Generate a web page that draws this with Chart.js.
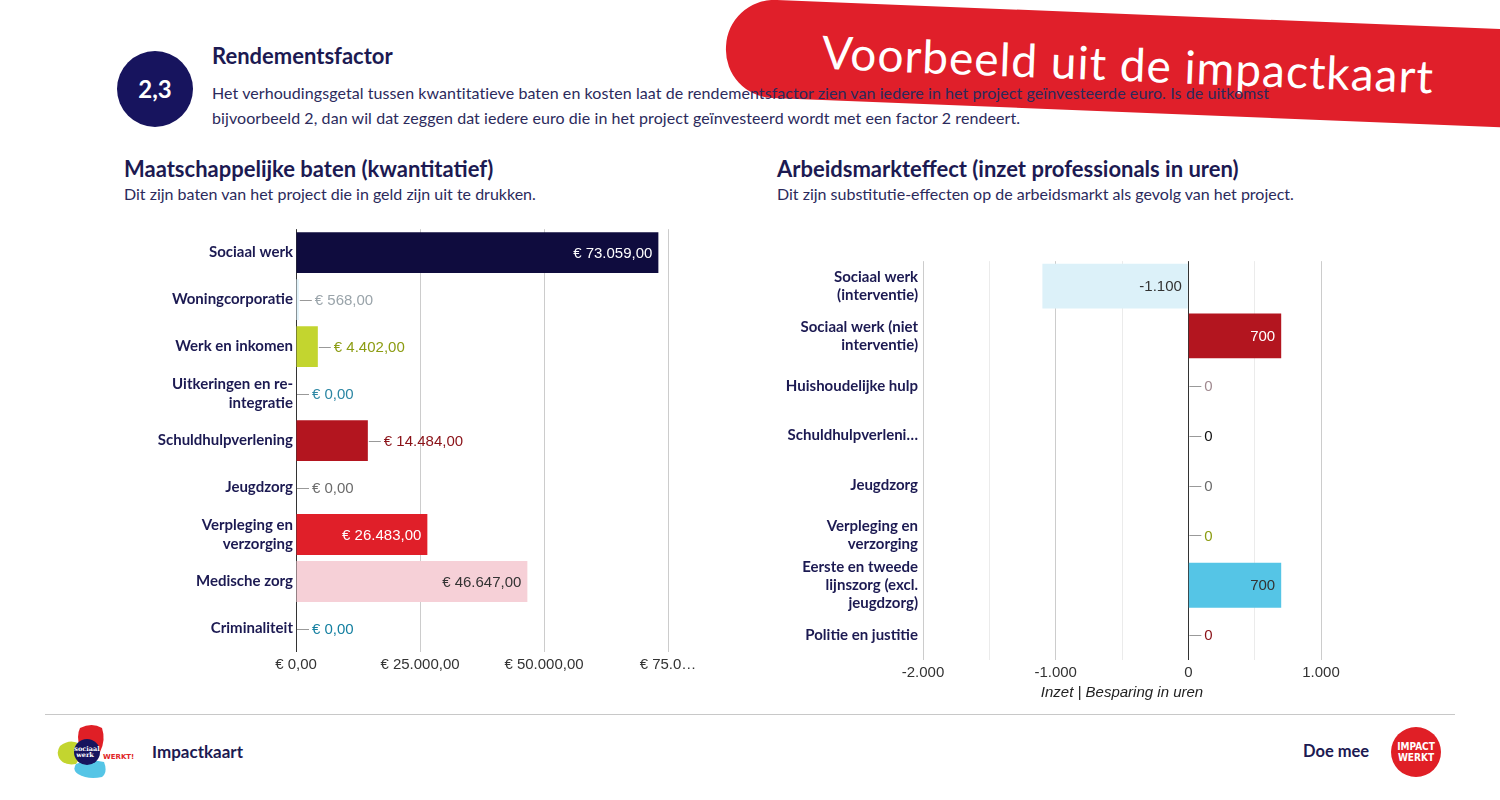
<!DOCTYPE html>
<html lang="nl">
<head>
<meta charset="utf-8">
<title>Impactkaart</title>
<script src="https://cdn.jsdelivr.net/npm/chart.js"></script>
<style>
  body { margin: 0; background: #fff; }
  #page { position: relative; width: 1500px; height: 800px; overflow: hidden; font-family: Lato, "Noto Sans", sans-serif; color: #1c1a52; }
  .abs { position: absolute; white-space: nowrap; }
  #banner { position: absolute; left: 726px; top: -2px; width: 860px; height: 98px; background: #e01f2a;
            border-radius: 48px 0 0 48px; transform-origin: 0 50%; transform: rotate(2.3deg); }
  #banner span { position: absolute; left: 96px; top: 27px; font-size: 46px; letter-spacing: 1px; line-height: 1; color: #fff; }
  #circle { left: 117px; top: 51px; width: 76px; height: 76px; border-radius: 50%; background: #17145e;
            color: #fff; font-weight: 700; font-size: 24px; line-height: 76px; text-align: center; }
  .title { font-weight: 700; font-size: 22px; }
  .txt { font-size: 16px; color: #2b2a5c; }
  #footline { left: 45px; top: 714px; width: 1410px; height: 1px; background: #c8c8c8; }
  #impact { left: 1391px; top: 727px; width: 50px; height: 50px; border-radius: 50%; background: #e01f26; color: #fff;
            font: 700 10px/11px "DejaVu Sans Condensed", sans-serif; text-align: center; padding-top: 14px; box-sizing: border-box; }
</style>
</head>
<body>
<div id="page">
  <div id="banner"><span>Voorbeeld uit de impactkaart</span></div>

  <div id="circle" class="abs">2,3</div>
  <div class="abs title" style="left:212px;top:42px;">Rendementsfactor</div>
  <div class="abs txt" style="left:212px;top:80px;line-height:25px;letter-spacing:0.08px;">Het verhoudingsgetal tussen kwantitatieve baten en kosten laat de rendementsfactor zien van iedere in het project geïnvesteerde euro. Is de uitkomst<br>bijvoorbeeld 2, dan wil dat zeggen dat iedere euro die in het project geïnvesteerd wordt met een factor 2 rendeert.</div>

  <div class="abs title" style="left:124px;top:155px;">Maatschappelijke baten (kwantitatief)</div>
  <div class="abs txt" style="left:124px;top:184px;">Dit zijn baten van het project die in geld zijn uit te drukken.</div>
  <div class="abs title" style="left:777px;top:155px;">Arbeidsmarkteffect (inzet professionals in uren)</div>
  <div class="abs txt" style="left:777px;top:184px;">Dit zijn substitutie-effecten op de arbeidsmarkt als gevolg van het project.</div>

  <canvas id="baten" class="abs" width="600" height="473" style="left:110px;top:217px;"></canvas>
  <canvas id="uren" class="abs" width="600" height="463" style="left:770px;top:247px;"></canvas>

  <div id="footline" class="abs"></div>
  <svg class="abs" style="left:50px;top:720px;" width="100" height="65" viewBox="0 0 100 65">
    <path d="M30 8 Q42 2 52 8 Q56 20 50 32 Q38 36 30 28 Q26 16 30 8 Z" fill="#e01f26"/>
    <path d="M10 26 Q20 18 30 24 Q32 36 26 44 Q14 46 9 38 Q6 32 10 26 Z" fill="#c3d52f"/>
    <path d="M26 44 Q40 38 54 42 Q58 52 52 57 Q38 60 28 54 Q22 50 26 44 Z" fill="#55c5e6"/>
    <circle cx="37" cy="32" r="13" fill="#17145e"/>
    <text x="37" y="31" font-family="DejaVu Serif" font-size="6.5" font-weight="700" fill="#fff" text-anchor="middle">sociaal</text>
    <text x="35" y="37" font-family="DejaVu Serif" font-size="6.5" font-weight="700" fill="#fff" text-anchor="middle">werk</text>
    <text x="53" y="39" font-family="DejaVu Sans" font-size="7" font-weight="700" fill="#e01f26">WERKT!</text>
  </svg>
  <div class="abs title" style="left:152px;top:741px;font-size:17px;">Impactkaart</div>
  <div class="abs title" style="left:1303px;top:741px;font-size:16.5px;">Doe mee</div>
  <div id="impact" class="abs">IMPACT<br>WERKT</div>
</div>

<script>
// Maatschappelijke baten (euro)
const batenLabels = ['Sociaal werk', 'Woningcorporatie', 'Werk en inkomen', ['Uitkeringen en re-', 'integratie'],
  'Schuldhulpverlening', 'Jeugdzorg', ['Verpleging en', 'verzorging'], 'Medische zorg', 'Criminaliteit'];
const batenValues = [73059, 568, 4402, 0, 14484, 0, 26483, 46647, 0];
const batenColors = ['#0f0c3e', '#dff2f9', '#c3d52f', '#2b86a3', '#b3151f', '#777777', '#e01f29', '#f6d0d7', '#137fa0'];
const batenTextColors = ['#ffffff', '#9aa4aa', '#8c9c12', '#2b86a3', '#8a1117', '#6b6b6b', '#ffffff', '#333333', '#137fa0'];
const batenTicks = ['€ 0,00', '€ 25.000,00', '€ 50.000,00', '€ 75.0…'];

// Arbeidsmarkteffect (uren)
const urenLabels = [['Sociaal werk', '(interventie)'], ['Sociaal werk (niet', 'interventie)'], 'Huishoudelijke hulp',
  'Schuldhulpverleni…', 'Jeugdzorg', ['Verpleging en', 'verzorging'], ['Eerste en tweede', 'lijnszorg (excl.', 'jeugdzorg)'],
  'Politie en justitie'];
const urenValues = [-1100, 700, 0, 0, 0, 0, 700, 0];
const urenColors = ['#dcf1f9', '#b3151f', '#f5cfd6', '#0f0c3e', '#777777', '#c3d52f', '#55c5e6', '#8a1117'];
const urenTextColors = ['#333333', '#ffffff', '#a08a90', '#111111', '#6b6b6b', '#8c9c12', '#333333', '#8a1117'];
const urenTicks = ['-2.000', '', '-1.000', '', '0', '', '1.000'];

function punten(n) {
  const s = String(Math.abs(n)).replace(/\B(?=(\d{3})+(?!\d))/g, '.');
  return (n < 0 ? '-' : '') + s;
}

const valueLabels = {
  id: 'valueLabels',
  afterDatasetsDraw(chart, args, opts) {
    const ctx = chart.ctx;
    const ds = chart.data.datasets[0];
    ctx.save();
    ctx.font = '15px "Liberation Sans", Arial, sans-serif';
    ctx.textBaseline = 'middle';
    chart.getDatasetMeta(0).data.forEach((bar, i) => {
      const text = opts.format(ds.data[i]);
      const w = ctx.measureText(text).width;
      const left = Math.min(bar.x, bar.base);
      const right = Math.max(bar.x, bar.base);
      ctx.fillStyle = opts.colors[i];
      if (right - left > w + 12) {
        ctx.textAlign = 'right';
        ctx.fillText(text, right - 6, bar.y + 1);
      } else {
        ctx.strokeStyle = '#999';
        ctx.lineWidth = 1;
        ctx.beginPath();
        ctx.moveTo(right + 1, Math.round(bar.y) + 0.5);
        ctx.lineTo(right + 13, Math.round(bar.y) + 0.5);
        ctx.stroke();
        ctx.textAlign = 'left';
        ctx.fillText(text, right + 16, bar.y + 1);
      }
    });
    ctx.restore();
  }
};

const labelFont = { family: 'Lato, "Noto Sans", sans-serif', size: 15, weight: '700', lineHeight: 1.22 };
const tickFont = { family: '"Liberation Sans", Arial, sans-serif', size: 15 };

new Chart(document.getElementById('baten'), {
  type: 'bar',
  plugins: [valueLabels],
  data: {
    labels: batenLabels,
    datasets: [{ data: batenValues, backgroundColor: batenColors, borderWidth: 0, categoryPercentage: 1, barPercentage: 0.87 }]
  },
  options: {
    indexAxis: 'y',
    responsive: false,
    animation: false,
    devicePixelRatio: 1,
    layout: { padding: { top: 5, bottom: 8, right: 42, left: 0 } },
    plugins: {
      legend: { display: false },
      tooltip: { enabled: false },
      valueLabels: { colors: batenTextColors, format: v => '€ ' + punten(v) + ',00' }
    },
    scales: {
      x: {
        min: 0, max: 75000,
        afterFit: s => { s.height = 30; },
        border: { display: false },
        grid: { drawTicks: false, color: c => c.tick && c.tick.value === 0 ? '#333' : '#cccccc' },
        ticks: { stepSize: 25000, autoSkip: false, maxRotation: 0, padding: 4, color: '#333', font: tickFont,
                 callback: (v, i) => batenTicks[i] }
      },
      y: {
        afterFit: s => { s.width = 186; },
        border: { display: false },
        grid: { display: false, drawTicks: false },
        ticks: { autoSkip: false, padding: 3, color: '#1c1a52', font: labelFont }
      }
    }
  }
});

new Chart(document.getElementById('uren'), {
  type: 'bar',
  plugins: [valueLabels],
  data: {
    labels: urenLabels,
    datasets: [{ data: urenValues, backgroundColor: urenColors, borderWidth: 0, categoryPercentage: 1, barPercentage: 0.9 }]
  },
  options: {
    indexAxis: 'y',
    responsive: false,
    animation: false,
    devicePixelRatio: 1,
    layout: { padding: { top: 6, bottom: 6, right: 49, left: 0 } },
    plugins: {
      legend: { display: false },
      tooltip: { enabled: false },
      valueLabels: { colors: urenTextColors, format: v => punten(v) }
    },
    scales: {
      x: {
        min: -2000, max: 1000,
        afterFit: s => { s.height = 44; },
        border: { display: false },
        grid: {
          drawTicks: false,
          color: c => {
            if (!c.tick) return '#ccc';
            if (c.tick.value === 0) return '#333';
            return c.tick.value % 1000 === 0 ? '#cccccc' : '#ebebeb';
          }
        },
        ticks: { stepSize: 500, autoSkip: false, maxRotation: 0, padding: 4, color: '#333', font: tickFont,
                 callback: (v, i) => urenTicks[i] },
        title: { display: true, text: 'Inzet | Besparing in uren', color: '#222', padding: { top: 0, bottom: 2 },
                 font: { family: '"Liberation Sans", Arial, sans-serif', size: 15, style: 'italic' } }
      },
      y: {
        afterFit: s => { s.width = 153; },
        border: { display: false },
        grid: { display: false, drawTicks: false },
        ticks: { autoSkip: false, padding: 5, color: '#1c1a52', font: labelFont }
      }
    }
  }
});
</script>
</body>
</html>
